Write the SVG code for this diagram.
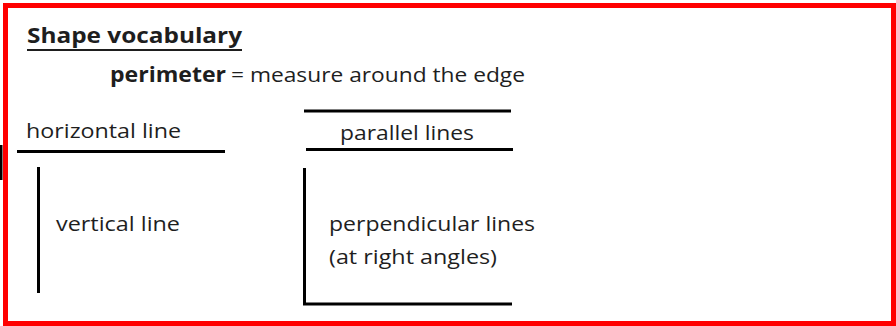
<svg xmlns="http://www.w3.org/2000/svg" width="896" height="326" viewBox="0 0 896 326">
<style>
.t{font-family:"Open Sans","Liberation Sans",sans-serif;font-size:20.5px;fill:#1e1e1e}
.b{font-weight:bold}
.ln{stroke:#000;stroke-width:3;stroke-linecap:butt;fill:none}
</style>
<rect x="0" y="0" width="896" height="326" fill="#fff"/>
<rect x="5.5" y="5.5" width="888" height="318" fill="none" stroke="#ff0000" stroke-width="5"/>
<rect x="0" y="145" width="2.5" height="35" fill="#000"/>
<g id="title">
<text class="t b" x="27" y="43" font-size="21" textLength="215" lengthAdjust="spacingAndGlyphs">Shape vocabulary</text>
<line x1="27" y1="50" x2="242" y2="50" stroke="#1e1e1e" stroke-width="1.8"/>
</g>
<g id="perimeter">
<text class="t b" x="110" y="82" textLength="116" lengthAdjust="spacingAndGlyphs">perimeter</text>
<text class="t" x="231" y="82" textLength="294" lengthAdjust="spacingAndGlyphs">= measure around the edge</text>
</g>
<g id="horizontal">
<text class="t" x="26" y="138" textLength="155" lengthAdjust="spacingAndGlyphs">horizontal line</text>
<line class="ln" x1="17" y1="151.5" x2="225" y2="151.5"/>
</g>
<g id="vertical">
<line class="ln" x1="38.5" y1="167" x2="38.5" y2="293"/>
<text class="t" x="56" y="231" textLength="124" lengthAdjust="spacingAndGlyphs">vertical line</text>
</g>
<g id="parallel">
<line class="ln" x1="304" y1="111" x2="511" y2="111"/>
<text class="t" x="340" y="140" textLength="134" lengthAdjust="spacingAndGlyphs">parallel lines</text>
<line class="ln" x1="306" y1="149.5" x2="513" y2="149.5"/>
</g>
<g id="perpendicular">
<path class="ln" d="M304.5 168 V304 H512"/>
<text class="t" x="329" y="231" textLength="206" lengthAdjust="spacingAndGlyphs">perpendicular lines</text>
<text class="t" x="329" y="264" textLength="168" lengthAdjust="spacingAndGlyphs">(at right angles)</text>
</g>
</svg>
